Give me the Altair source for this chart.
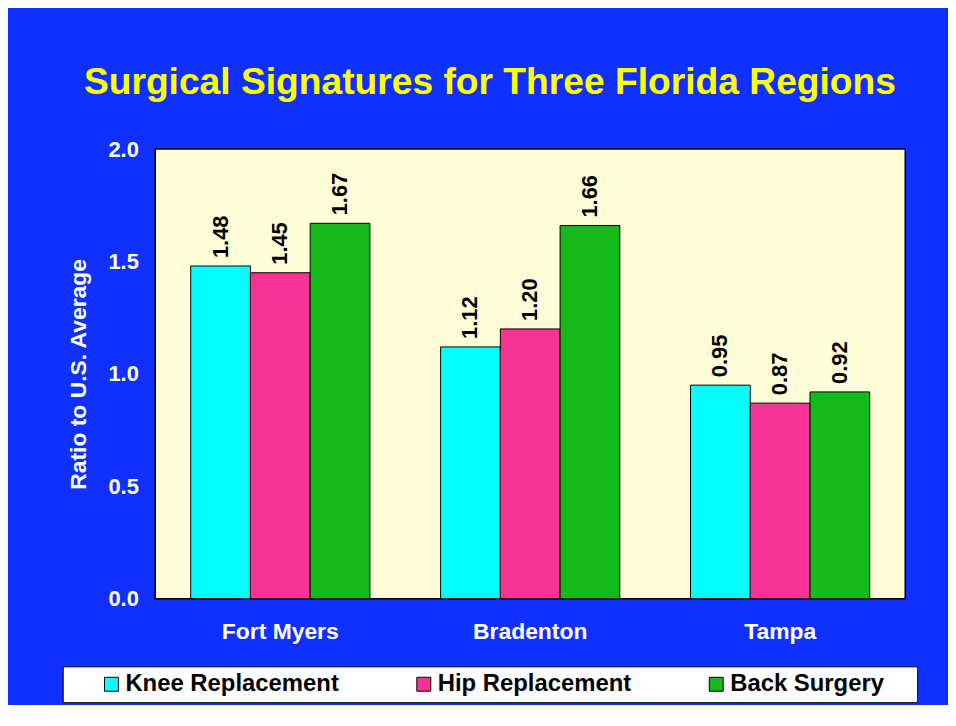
import altair as alt
import pandas as pd

regions = ["Fort Myers", "Bradenton", "Tampa"]
procedures = ["Knee Replacement", "Hip Replacement", "Back Surgery"]
knee = [1.48, 1.12, 0.95]
hip = [1.45, 1.20, 0.87]
back = [1.67, 1.66, 0.92]
colors = ["#00FFFF", "#F83396", "#13BA19"]
y_ticks = [0.0, 0.5, 1.0, 1.5, 2.0]
title_text = "Surgical Signatures for Three Florida Regions"
y_title = "Ratio to U.S. Average"

rows = []
for series, vals in zip(procedures, [knee, hip, back]):
    for r, v in zip(regions, vals):
        rows.append({"region": r, "procedure": series, "value": v})
df = pd.DataFrame(rows)

FONT = "Liberation Sans"
BG = "#1030FF"

x = alt.X(
    "region:N", sort=regions,
    scale=alt.Scale(paddingInner=0.283, paddingOuter=0.142),
    axis=alt.Axis(title=None, labelAngle=0, labelColor="white", labelFont=FONT,
                  labelFontWeight="bold", labelFontSize=23, labelPadding=22,
                  ticks=False, domain=False),
)
xoff = alt.XOffset("procedure:N", sort=procedures,
                   scale=alt.Scale(paddingInner=0, paddingOuter=0))
y = alt.Y(
    "value:Q",
    scale=alt.Scale(domain=[0, 2]),
    axis=alt.Axis(values=y_ticks, format=".1f", grid=False, ticks=False, domain=False,
                  labelColor="white", labelFont=FONT, labelFontWeight="bold",
                  labelFontSize=22, labelPadding=17,
                  title=y_title, titleColor="white", titleFont=FONT,
                  titleFontWeight="bold", titleFontSize=23, titlePadding=17),
)
color = alt.Color(
    "procedure:N", sort=procedures,
    scale=alt.Scale(domain=procedures, range=colors),
    legend=alt.Legend(
        title=".", titleOrient="right", titleColor="white", titleFontSize=4,
        titlePadding=25,
        orient="none", legendX=-93, legendY=520,
        direction="horizontal", columns=3, columnPadding=42,
        fillColor="white", strokeColor="black", padding=6,
        symbolType="square", symbolSize=196, symbolStrokeColor="black",
        symbolStrokeWidth=1, symbolOpacity=1, symbolOffset=31,
        labelFont=FONT, labelFontWeight="bold", labelFontSize=24,
        labelColor="black", labelOffset=2, labelLimit=400,
    ),
)

bars = alt.Chart(df).mark_bar(stroke="black", strokeWidth=1).encode(
    x=x, xOffset=xoff, y=y, color=color
)
labels = alt.Chart(df).mark_text(
    angle=270, align="left", baseline="middle", dx=8,
    font=FONT, fontWeight="bold", fontSize=22, color="black"
).encode(x=x, xOffset=xoff, y=y, text=alt.Text("value:Q", format=".2f"))

chart = (bars + labels).properties(
    width=754, height=452,
    title=alt.Title(title_text, color="#FFFF00", font=FONT, fontWeight="bold",
                    fontSize=37.4, anchor="middle", frame="bounds", offset=37),
    padding={"left": 54, "top": 54, "right": 30, "bottom": 0},
    background=BG,
).configure_view(fill="#FFFDD8", stroke="black", strokeWidth=1.5)

chart.save("out.html", embed_options={"renderer": "svg", "actions": False})
